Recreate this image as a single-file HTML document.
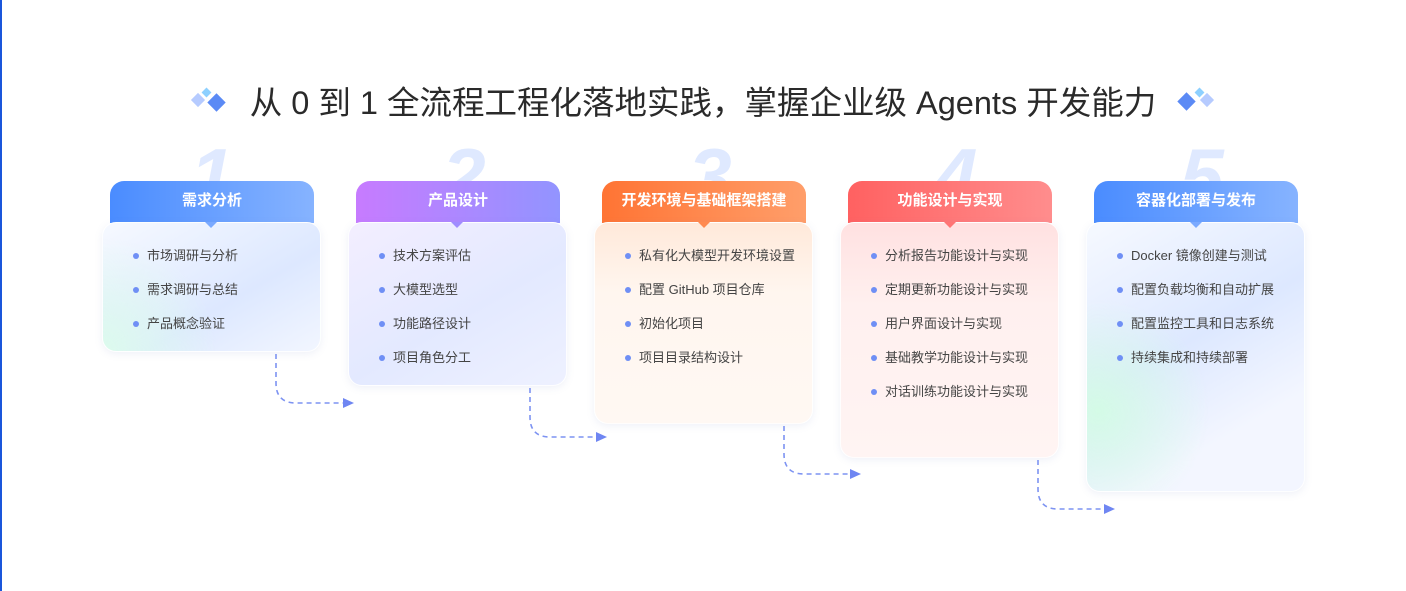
<!DOCTYPE html>
<html><head><meta charset="utf-8"><style>
*{margin:0;padding:0;box-sizing:border-box}
body{width:1406px;height:591px;background:#fff;position:relative;overflow:hidden;font-family:"Liberation Sans","Noto Sans CJK SC",sans-serif}
.edge{position:absolute;left:0;top:0;width:2px;height:591px;background:#1a56db}
.title{position:absolute;left:0;width:1406px;top:81px;text-align:center;font-size:32.5px;color:#2a2a2a;line-height:44px}
.d{position:absolute;transform:rotate(45deg)}
.num{position:absolute;font-size:78px;font-weight:900;font-style:italic;color:#dfe9ff;top:136px;line-height:80px;font-family:"Liberation Sans",sans-serif;width:80px;text-align:center}
.hd{position:absolute;top:181px;height:42px;width:204px;border-radius:14px 14px 0 0;color:#fff;font-size:15px;font-weight:bold;text-align:center;line-height:40px}
.bd{position:absolute;top:222px;width:219px;border-radius:14px;border:1px solid rgba(255,255,255,.9);box-shadow:0 2px 8px rgba(120,140,200,.12)}
.bd ul{list-style:none;padding:20px 0 0 30px}
.bd li{font-size:13px;color:#444;height:34px;line-height:26px;position:relative;padding-left:14px}
.bd li:before{content:"";position:absolute;left:0;top:10px;width:6px;height:6px;border-radius:50%;background:#6f8ff5}
.nt{position:absolute;top:222px;width:0;height:0;border-left:6px solid transparent;border-right:6px solid transparent;border-top:6px solid}
</style></head><body>
<div class="edge"></div>
<div class="d" style="left:193px;top:95px;width:10px;height:10px;background:#b6cbff"></div>
<div class="d" style="left:203px;top:89px;width:7px;height:7px;background:#8dd0ff"></div>
<div class="d" style="left:210px;top:96px;width:13px;height:13px;background:#5b8af5"></div>
<div class="title">从 0 到 1 全流程工程化落地实践，掌握企业级 Agents 开发能力</div>
<div class="d" style="left:1180px;top:95px;width:13px;height:13px;background:#5b8af5"></div>
<div class="d" style="left:1196px;top:89px;width:7px;height:7px;background:#8dd0ff"></div>
<div class="d" style="left:1202px;top:95px;width:10px;height:10px;background:#b6cbff"></div>

<div class="num" style="left:172px">1</div>
<div class="num" style="left:424px">2</div>
<div class="num" style="left:670px">3</div>
<div class="num" style="left:916px">4</div>
<div class="num" style="left:1162px">5</div>

<div class="hd" style="left:110px;background:linear-gradient(90deg,#4a8cff,#86b3ff)">需求分析</div>
<div class="bd" style="left:102px;height:130px;background:radial-gradient(circle at 0% 100%,#dcfbed 0,rgba(220,251,237,0) 45%),linear-gradient(150deg,#f6f9ff,#dde8ff 60%,#f2f6ff)"><ul><li>市场调研与分析</li><li>需求调研与总结</li><li>产品概念验证</li></ul></div>
<div class="nt" style="left:205px;border-top-color:#7aa9ff"></div>

<div class="hd" style="left:356px;background:linear-gradient(90deg,#c77bff,#9294ff)">产品设计</div>
<div class="bd" style="left:348px;height:164px;background:linear-gradient(150deg,#f3eeff,#e3e9ff 55%,#eef1ff)"><ul><li>技术方案评估</li><li>大模型选型</li><li>功能路径设计</li><li>项目角色分工</li></ul></div>
<div class="nt" style="left:451px;border-top-color:#a08cff"></div>

<div class="hd" style="left:602px;background:linear-gradient(90deg,#ff7434,#ff9e6a)">开发环境与基础框架搭建</div>
<div class="bd" style="left:594px;height:202px;background:linear-gradient(180deg,#ffe9da,#fff6ef 35%,#fff8f3)"><ul><li>私有化大模型开发环境设置</li><li>配置 GitHub 项目仓库</li><li>初始化项目</li><li>项目目录结构设计</li></ul></div>
<div class="nt" style="left:698px;border-top-color:#ff8a50"></div>

<div class="hd" style="left:848px;background:linear-gradient(90deg,#ff6161,#ff8d8d)">功能设计与实现</div>
<div class="bd" style="left:840px;height:236px;background:linear-gradient(180deg,#ffe1e1,#fff0ef 35%,#fff4f3)"><ul><li>分析报告功能设计与实现</li><li>定期更新功能设计与实现</li><li>用户界面设计与实现</li><li>基础教学功能设计与实现</li><li>对话训练功能设计与实现</li></ul></div>
<div class="nt" style="left:944px;border-top-color:#ff7575"></div>

<div class="hd" style="left:1094px;background:linear-gradient(90deg,#4a8cff,#86b3ff)">容器化部署与发布</div>
<div class="bd" style="left:1086px;height:270px;background:radial-gradient(circle at 5% 70%,#d4fbe6 0,rgba(212,251,230,0) 40%),linear-gradient(150deg,#f6f9ff,#dde8ff 45%,#f3f6ff 75%)"><ul><li>Docker 镜像创建与测试</li><li>配置负载均衡和自动扩展</li><li>配置监控工具和日志系统</li><li>持续集成和持续部署</li></ul></div>
<div class="nt" style="left:1190px;border-top-color:#7aa9ff"></div>

<svg width="1406" height="591" style="position:absolute;left:0;top:0" fill="none">
<g stroke="#7d93f2" stroke-width="1.6" stroke-dasharray="5 4">
<path d="M276 354 V383 Q276 403 296 403 H344"/>
<path d="M530 388 V417 Q530 437 550 437 H597"/>
<path d="M784 426 V454 Q784 474 804 474 H851"/>
<path d="M1038 460 V489 Q1038 509 1058 509 H1105"/>
</g>
<g fill="#6f86f2">
<path d="M343 398 L354 403 L343 408Z"/>
<path d="M596 432 L607 437 L596 442Z"/>
<path d="M850 469 L861 474 L850 479Z"/>
<path d="M1104 504 L1115 509 L1104 514Z"/>
</g>
</svg>
</body></html>
